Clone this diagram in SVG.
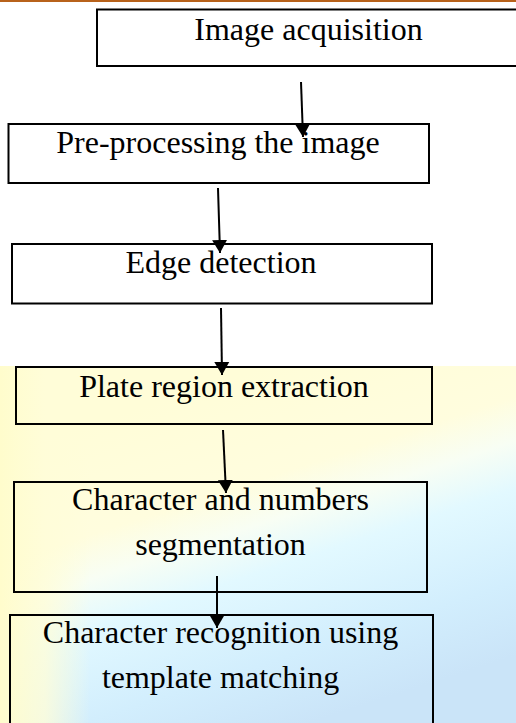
<svg xmlns="http://www.w3.org/2000/svg" width="516" height="723" viewBox="0 0 516 723">
<style>
  .box { fill: none; stroke: #000; stroke-width: 2; }
  .lbl { font-family: "Liberation Serif", "Times New Roman", serif; font-size: 32px; fill: #000; text-anchor: middle; }
  .conn { stroke: #000; stroke-width: 2; fill: none; marker-end: url(#ah); }
</style>
<defs>
  <marker id="ah" markerUnits="userSpaceOnUse" markerWidth="16" markerHeight="16" refX="13" refY="8" orient="auto">
    <path d="M0,0.5 L13,8 L0,15.5 z" fill="#000"/>
  </marker>
  <linearGradient id="bg" x1="0.2" y1="0.15" x2="0.6" y2="1">
    <stop offset="0" stop-color="#FFFDD8"/>
    <stop offset="0.3" stop-color="#FFFDDE"/>
    <stop offset="0.42" stop-color="#F8FEF4"/>
    <stop offset="0.55" stop-color="#E2F9FF"/>
    <stop offset="0.8" stop-color="#D2EEFD"/>
    <stop offset="1" stop-color="#CAE4F8"/>
  </linearGradient>
  <linearGradient id="left" x1="0" y1="0" x2="1" y2="0">
    <stop offset="0" stop-color="#FFFCCC"/>
    <stop offset="0.5" stop-color="#FFFDD8" stop-opacity="0.8"/>
    <stop offset="1" stop-color="#FFFDD8" stop-opacity="0"/>
  </linearGradient>
</defs>
<rect width="516" height="723" fill="#fff"/>
<rect x="0" y="366" width="516" height="357" fill="url(#bg)"/>
<rect x="0" y="366" width="90" height="357" fill="url(#left)"/>
<rect x="0" y="0" width="516" height="2" fill="#B8621B"/>

<g id="n1"><rect class="box" x="97" y="9.5" width="430" height="56.5"/><text class="lbl" x="308.5" y="40">Image acquisition</text></g>
<g id="n2"><rect class="box" x="8.5" y="124" width="420.5" height="59"/><text class="lbl" x="218" y="153">Pre-processing the image</text></g>
<g id="n3"><rect class="box" x="12" y="244" width="420" height="59.5"/><text class="lbl" x="221" y="273">Edge detection</text></g>
<g id="n4"><rect class="box" x="16" y="367" width="416" height="57"/><text class="lbl" x="224" y="397">Plate region extraction</text></g>
<g id="n5"><rect class="box" x="14" y="482" width="413" height="110"/><text class="lbl" x="220.5" y="510">Character and numbers</text><text class="lbl" x="220.5" y="555">segmentation</text></g>
<g id="n6"><rect class="box" x="10" y="615" width="423" height="120"/><text class="lbl" x="220.5" y="643">Character recognition using</text><text class="lbl" x="220.5" y="688">template matching</text></g>

<g id="connectors">
  <line class="conn" x1="301" y1="82" x2="303" y2="137"/>
  <line class="conn" x1="218" y1="188" x2="220" y2="253"/>
  <line class="conn" x1="221" y1="308" x2="222" y2="375"/>
  <line class="conn" x1="223" y1="430" x2="226" y2="493"/>
  <line class="conn" x1="217" y1="576" x2="217" y2="628"/>
</g>
</svg>
